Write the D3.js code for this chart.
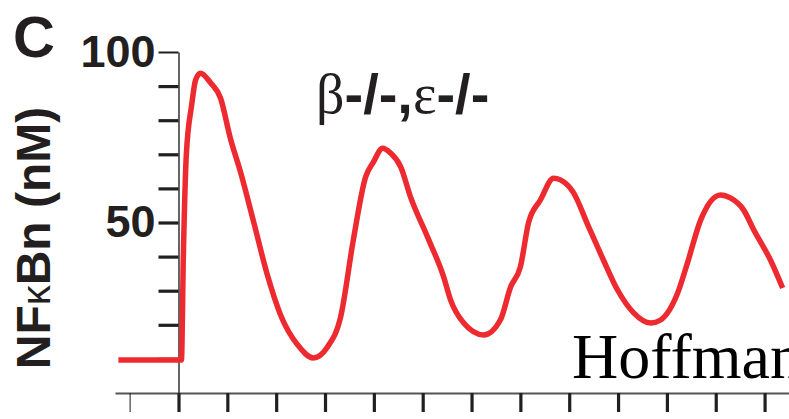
<!DOCTYPE html>
<html>
<head>
<meta charset="utf-8">
<script src="https://cdn.jsdelivr.net/npm/d3@7"></script>
<style>
  body { margin: 0; background: #fff; }
  svg { display: block; }
</style>
</head>
<body>
<svg id="chart" width="789" height="419"></svg>
<script>
// NFkBn time course, b-/- e-/- knockout (panel C)

// time in hours after stimulus
var times = [-1.23, 0.06, 0.10, 0.16, 0.27, 0.35, 0.45, 0.66, 0.86, 1.06, 1.27, 1.54, 1.82, 2.09, 2.44, 2.76,
  3.05, 3.32, 3.58, 3.83, 3.99, 4.18, 4.34, 4.55, 4.75, 5.10, 5.43, 5.57, 5.84, 6.25,
  6.59, 6.80, 7.00, 7.17, 7.41, 7.68, 7.82, 8.09, 8.38, 8.70, 8.99, 9.32, 9.67, 9.87,
  10.22, 10.42, 10.69, 11.10, 11.30, 11.57, 11.78, 12.12, 12.37];
// nuclear NFkB (nM)
var nfkbn = [9.7, 9.7, 40.5, 69.8, 84.5, 91.8, 93.8, 90.9, 86.5, 74.8, 64.8, 50.1, 34.6, 22.9, 14.1, 10.3,
  13.5, 22.3, 44.9, 63.3, 67.7, 71.8, 70.4, 66.3, 57.5, 45.7, 34.0, 27.3, 20.5, 17.0,
  21.4, 31.1, 37.0, 50.1, 56.6, 63.0, 62.5, 58.7, 49.3, 39.0, 30.2, 23.5, 20.5, 21.4,
  29.3, 38.1, 50.7, 58.1, 57.2, 53.7, 47.8, 39.0, 30.8];

var yTicks = [10, 20, 30, 40, 50, 60, 70, 80, 90, 100];
var yLabels = [50, 100];
var xTicks = [-1, 0, 1, 2, 3, 4, 5, 6, 7, 8, 9, 10, 11, 12];

var svg = d3.select("#chart");

var x = d3.scaleLinear().domain([-1.3, 12.5]).range([115, 789]);
var y = d3.scaleLinear().domain([0, 100]).range([393, 52]);

var data = times.map(function (t, i) { return {t: t, v: nfkbn[i]}; });

// x axis (no labels)
var xAxis = svg.append("g")
  .attr("transform", "translate(0," + y(0) + ")")
  .call(d3.axisBottom(x).tickValues(xTicks).tickSize(19).tickSizeOuter(0).tickFormat(""));
xAxis.select(".domain").attr("stroke", "#555").attr("stroke-width", 2);
xAxis.selectAll(".tick line").attr("stroke", "#231f20").attr("stroke-width", 3.2);
xAxis.selectAll(".tick").filter(function (d) { return d < 0; })
  .select("line").attr("stroke-width", 1.5).attr("opacity", 0.7);

// y axis
var yAxis = svg.append("g")
  .attr("transform", "translate(" + x(0) + ",0)")
  .call(d3.axisLeft(y).tickValues(yTicks).tickSize(20).tickSizeOuter(0).tickPadding(3)
    .tickFormat(function (d) { return yLabels.indexOf(d) >= 0 ? d : ""; }));
yAxis.select(".domain").attr("stroke", "#333").attr("stroke-width", 1.5);
yAxis.selectAll(".tick line").attr("stroke", "#231f20").attr("stroke-width", 3.2);
yAxis.selectAll(".tick").filter(function (d) { return d === 100; })
  .select("line").attr("stroke-width", 2);
yAxis.selectAll(".tick text")
  .attr("fill", "#231f20")
  .style("font-family", "'Liberation Sans', Arial, sans-serif")
  .style("font-weight", "bold")
  .style("font-size", "45px");

// the curve
var line = d3.line()
  .curve(d3.curveMonotoneX)
  .x(function (d) { return x(d.t); })
  .y(function (d) { return y(d.v); });

svg.append("path")
  .datum(data)
  .attr("d", line)
  .attr("fill", "none")
  .attr("stroke", "#ed2a30")
  .attr("stroke-width", 5.5)
  .attr("stroke-linejoin", "round");

// panel letter
svg.append("text")
  .attr("x", 13).attr("y", 57)
  .attr("fill", "#231f20")
  .style("font-family", "'Liberation Sans', Arial, sans-serif")
  .style("font-weight", "bold")
  .style("font-size", "58px")
  .text("C");

// y axis title
var yt = svg.append("text")
  .attr("transform", "translate(50,238) rotate(-90)")
  .attr("text-anchor", "middle")
  .attr("fill", "#231f20")
  .style("font-family", "'Liberation Sans', Arial, sans-serif")
  .style("font-weight", "bold")
  .style("font-size", "48px");
yt.append("tspan").text("NF");
yt.append("tspan").style("font-weight", "normal").style("font-size", "40px").text("\u03ba");
yt.append("tspan").text("Bn (nM)");

// genotype label
var gl = svg.append("text")
  .attr("x", 316).attr("y", 113)
  .attr("fill", "#231f20")
  .style("font-family", "'Liberation Sans', Arial, sans-serif")
  .style("font-weight", "bold")
  .style("font-size", "56px");
gl.append("tspan").style("font-family", "'Liberation Serif', serif").style("font-weight", "normal").text("\u03b2");
gl.append("tspan").text("-/-,");
gl.append("tspan").style("font-family", "'Liberation Serif', serif").style("font-weight", "normal").text("\u03b5");
gl.append("tspan").text("-/-");

// source watermark (runs off the right edge, as in the original)
svg.append("text")
  .attr("x", 572).attr("y", 378)
  .attr("fill", "#000")
  .style("font-family", "'Liberation Serif', 'Times New Roman', serif")
  .style("font-size", "64px")
  .text("Hoffman");
</script>
</body>
</html>
